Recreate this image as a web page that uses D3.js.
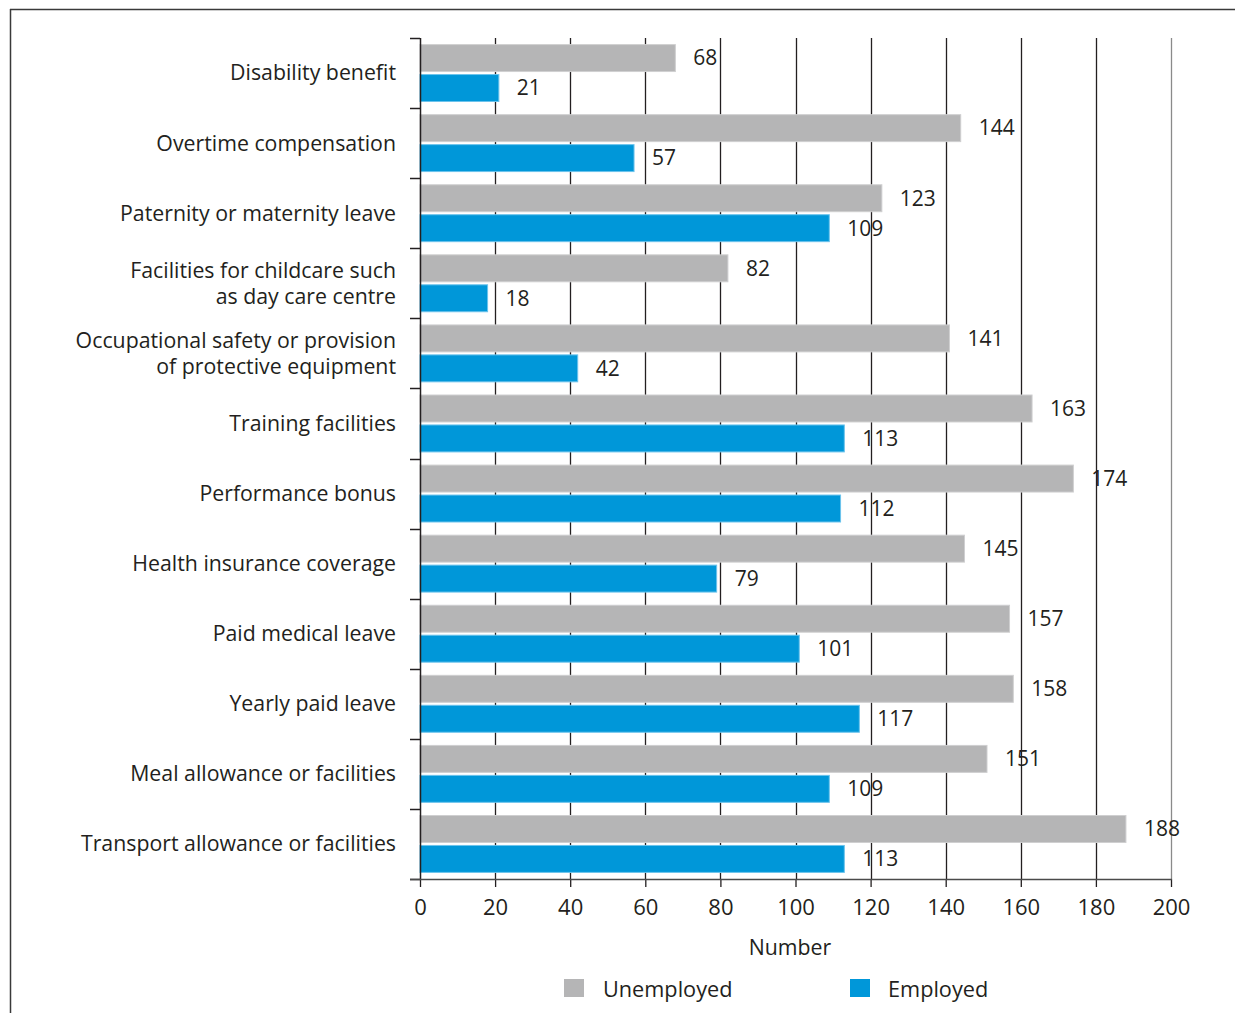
<!DOCTYPE html>
<html>
<head>
<meta charset="utf-8">
<script src="https://cdn.jsdelivr.net/npm/d3@7"></script>
<style>
  body { margin: 0; background: #fff; }
  svg text { font-family: "Open Sans", sans-serif; fill: #231f20; }
</style>
</head>
<body>
<div id="chart"></div>
<script>
// chart data
const categories = [
    ["Disability benefit"],
    ["Overtime compensation"],
    ["Paternity or maternity leave"],
    ["Facilities for childcare such", "as day care centre"],
    ["Occupational safety or provision", "of protective equipment"],
    ["Training facilities"],
    ["Performance bonus"],
    ["Health insurance coverage"],
    ["Paid medical leave"],
    ["Yearly paid leave"],
    ["Meal allowance or facilities"],
    ["Transport allowance or facilities"]
];
const unemployed = [68, 144, 123, 82, 141, 163, 174, 145, 157, 158, 151, 188];
const employed = [21, 57, 109, 18, 42, 113, 112, 79, 101, 117, 109, 113];
const xTicks = [0, 20, 40, 60, 80, 100, 120, 140, 160, 180, 200];
const seriesNames = ["Unemployed", "Employed"];
const colors = ["#b5b5b6", "#0097d9"];

const width = 1235, height = 1013;
const svg = d3.select("#chart").append("svg")
    .attr("width", width)
    .attr("height", height);

// outer frame (top + left only)
svg.append("line").attr("x1", 10).attr("x2", width).attr("y1", 9.5).attr("y2", 9.5)
    .attr("stroke", "#3a3a3a").attr("stroke-width", 1.5);
svg.append("line").attr("x1", 10.5).attr("x2", 10.5).attr("y1", 9).attr("y2", height)
    .attr("stroke", "#3a3a3a").attr("stroke-width", 1.5);

const x = d3.scaleLinear().domain([0, 200]).range([420, 1171]);
const y = d3.scaleBand().domain(d3.range(categories.length)).range([38, 879]);
const inner = d3.scaleBand().domain([0, 1]).range([0, y.bandwidth()])
    .paddingInner(0.1).paddingOuter(0.22);

// gridlines
svg.append("g").selectAll("line")
    .data(xTicks.slice(1))
    .join("line")
    .attr("x1", d => Math.round(x(d)) + 0.5)
    .attr("x2", d => Math.round(x(d)) + 0.5)
    .attr("y1", 38).attr("y2", 879)
    .attr("stroke", d => d === 200 ? "#8a8a8a" : "#231f20")
    .attr("stroke-width", 1.3);

// bars
const groups = svg.append("g").selectAll("g")
    .data(categories.map((c, i) => ({ c, i, vals: [unemployed[i], employed[i]] })))
    .join("g")
    .attr("transform", d => `translate(0,${y(d.i)})`);

groups.selectAll("rect")
    .data(d => d.vals.map((v, k) => ({ v, k })))
    .join("rect")
    .attr("x", x(0))
    .attr("y", d => inner(d.k))
    .attr("width", d => x(d.v) - x(0))
    .attr("height", inner.bandwidth())
    .attr("fill", d => colors[d.k])
    .attr("stroke", d => d.k === 0 ? "#cfcfd0" : "#6cc3ec")
    .attr("stroke-width", 1);

groups.selectAll("text.val")
    .data(d => d.vals.map((v, k) => ({ v, k })))
    .join("text")
    .attr("class", "val")
    .attr("x", d => x(d.v) + 18)
    .attr("y", d => inner(d.k) + inner.bandwidth() / 2)
    .attr("dy", "0.35em")
    .attr("font-size", 21)
    .text(d => d.v);

// category labels
groups.append("text")
    .attr("text-anchor", "end")
    .attr("font-size", 21.3)
    .each(function(d) {
        const t = d3.select(this);
        const n = d.c.length;
        d.c.forEach((line, j) => {
            t.append("tspan")
                .attr("x", 396)
                .attr("y", y.bandwidth() / 2 + (j - (n - 1) / 2) * 26)
                .attr("dy", "0.35em")
                .text(line);
        });
    });

// y axis
const yAxis = svg.append("g");
yAxis.append("line").attr("x1", 420.5).attr("x2", 420.5).attr("y1", 38).attr("y2", 879)
    .attr("stroke", "#231f20").attr("stroke-width", 1.5);
yAxis.selectAll("line.tick")
    .data(d3.range(categories.length + 1))
    .join("line")
    .attr("class", "tick")
    .attr("x1", 410).attr("x2", 420)
    .attr("y1", d => Math.round(38 + d * y.step()) + 0.5)
    .attr("y2", d => Math.round(38 + d * y.step()) + 0.5)
    .attr("stroke", "#231f20").attr("stroke-width", 1.5);

// x axis
const xAxis = svg.append("g")
    .attr("transform", "translate(0,879)")
    .call(d3.axisBottom(x).tickValues(xTicks).tickSize(8).tickPadding(12).tickSizeOuter(0));
xAxis.select(".domain").remove();
xAxis.append("line").attr("x1", 410).attr("x2", 1172).attr("y1", 0.5).attr("y2", 0.5)
    .attr("stroke", "#4a4a4a").attr("stroke-width", 1.5);
xAxis.selectAll(".tick line").attr("stroke", "#231f20").attr("stroke-width", 1.3);
xAxis.selectAll(".tick text")
    .attr("font-size", 22)
    .attr("font-family", "Open Sans, sans-serif")
    .attr("fill", "#231f20");

svg.append("text")
    .attr("x", 790).attr("y", 948)
    .attr("dy", "0.35em")
    .attr("text-anchor", "middle")
    .attr("font-size", 21.3)
    .text("Number");

// legend
const legendX = [564, 850];
const legend = svg.append("g").selectAll("g")
    .data(seriesNames)
    .join("g")
    .attr("transform", (d, i) => `translate(${legendX[i]},979)`);
legend.append("rect")
    .attr("width", 20).attr("height", 18)
    .attr("fill", (d, i) => colors[i]);
legend.append("text")
    .attr("x", (d, i) => i === 0 ? 39 : 38)
    .attr("y", 10).attr("dy", "0.35em")
    .attr("font-size", 21.7)
    .text(d => d);
</script>
</body>
</html>
